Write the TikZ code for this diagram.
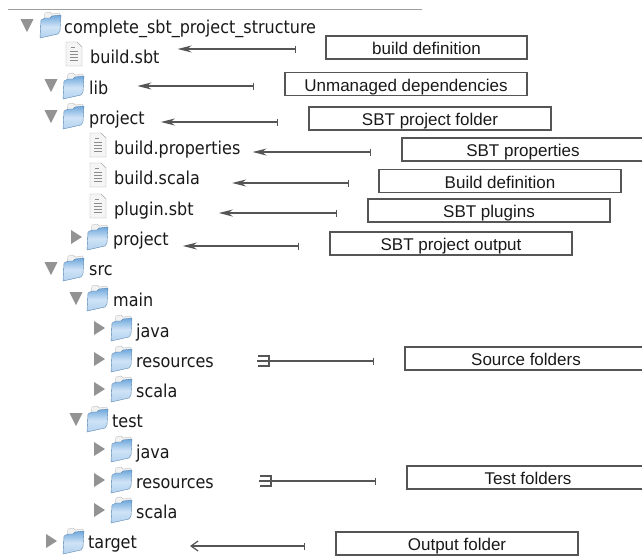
\documentclass[tikz,border=0pt]{standalone}
\usepackage{fontspec}
\setmainfont{Liberation Sans}
\newfontfamily\treefont{DejaVu Sans Condensed}
\usepackage{xcolor}
\usetikzlibrary{arrows.meta}
\definecolor{folderdark}{HTML}{6FA8DC}
\definecolor{folderlight}{HTML}{CFE3F6}
\definecolor{edgegray}{HTML}{555555}

\begin{document}
\begin{tikzpicture}[%
  x=1pt,y=-1pt,
  item/.style={anchor=base west,inner sep=0pt,font=\treefont\fontsize{17.8}{17.8}\selectfont,text=black!90},
  desc/.style={draw=edgegray,line width=1.2pt,minimum width=242pt,minimum height=23pt,inner sep=0pt,text height=15pt,text depth=1pt,font=\fontsize{17}{17}\selectfont,text=black!90},
  link/.style={draw=edgegray,line width=1.2pt,{Bar[width=7pt,line width=1.2pt]}-{Stealth[length=14pt,width=7pt]}},
  linkopen/.style={draw=edgegray,line width=1.2pt,{Bar[width=7pt,line width=1.2pt]}-{Straight Barb[length=7pt,width=10pt,line width=1.2pt]}},
  linkfork/.style={draw=edgegray,line width=1.2pt,{Bar[width=7pt,line width=1.2pt]}-},
  treeopen/.pic={\fill [gray!85] (-6.5,-6) -- (6.5,-6) -- (0,7) -- cycle;},
  treeclosed/.pic={\fill [gray!85] (-5,-7) -- (6,0) -- (-5,7) -- cycle;},
  fork/.pic={\draw [edgegray,line width=1.2pt] (-11,-5) -- (0,-5) -- (0,5) -- (-11,5) (-12,0) -- (0,0);},
  folder/.pic={
    \draw [gray!50,fill=gray!10] (4,-6) -- (5,-12) -- (10,-13) -- (12,-11) -- (20,-12) -- (20,-4) -- cycle;
    \draw [folderdark!80!black,top color=folderdark,bottom color=folderlight!70!folderdark,middle color=folderlight]
      (0,13) -- (1,-5) -- (5,-7) -- (10,-7) -- (12,-9) -- (21,-10) -- (20,6) -- (18,9) -- cycle;
  },
  textfile/.pic={
    \draw [gray!70,fill=gray!8] (0,-12) -- (11,-12) -- (16,-7) -- (16,12) -- (0,12) -- cycle;
    \draw [gray!90,line width=0.9pt] (5,-7) -- (9,-7) (4,-3) -- (12,-3) (4,0) -- (12,0) (4,3) -- (12,3) (4,6) -- (12,6);
  }
]
  \useasboundingbox (0,0) rectangle (642,558);
  \draw [gray!75,line width=1pt] (8,9) -- (422,9);

  % tree
  \pic at (27,25) {treeopen};
  \pic at (40,25) {folder};
  \node [item] (root) at (64,33) {complete\_sbt\_project\_structure};
  \pic at (66,54) {textfile};
  \node [item] (buildsbt) at (90,63) {build.sbt};
  \pic at (51,85) {treeopen};
  \pic at (63,86) {folder};
  \node [item] (lib) at (89,94) {lib};
  \pic at (51,116) {treeopen};
  \pic at (63,116) {folder};
  \node [item] (project) at (89,124) {project};
  \pic at (90,145) {textfile};
  \node [item] (buildprops) at (114,154) {build.properties};
  \pic at (90,175) {textfile};
  \node [item] (buildscala) at (114,184) {build.scala};
  \pic at (90,206) {textfile};
  \node [item] (pluginsbt) at (114,215) {plugin.sbt};
  \pic at (76,237) {treeclosed};
  \pic at (87,237) {folder};
  \node [item] (subproject) at (113,245) {project};
  \pic at (51,268) {treeopen};
  \pic at (63,268) {folder};
  \node [item] (src) at (89,275) {src};
  \pic at (76,298) {treeopen};
  \pic at (87,298) {folder};
  \node [item] (main) at (113,306) {main};
  \pic at (99,328) {treeclosed};
  \pic at (111,328) {folder};
  \node [item] (mainjava) at (136,337) {java};
  \pic at (99,359) {treeclosed};
  \pic at (111,359) {folder};
  \node [item] (mainres) at (136,367) {resources};
  \pic at (99,389) {treeclosed};
  \pic at (111,389) {folder};
  \node [item] (mainscala) at (136,397) {scala};
  \pic at (76,419) {treeopen};
  \pic at (87,419) {folder};
  \node [item] (test) at (112,427) {test};
  \pic at (99,449) {treeclosed};
  \pic at (111,449) {folder};
  \node [item] (testjava) at (136,458) {java};
  \pic at (99,480) {treeclosed};
  \pic at (111,480) {folder};
  \node [item] (testres) at (136,488) {resources};
  \pic at (99,510) {treeclosed};
  \pic at (111,510) {folder};
  \node [item] (testscala) at (136,518) {scala};
  \pic at (51,541) {treeclosed};
  \pic at (63,541) {folder};
  \node [item] (target) at (88,548) {target};

  % labels
  \node [desc,minimum width=201pt] (descbuild) at (426.5,47.5) {build definition};
  \node [desc] (desclib) at (406,84) {Unmanaged dependencies};
  \node [desc] (descproject) at (430,118.5) {SBT project folder};
  \node [desc] (descprops) at (523,149.5) {SBT properties};
  \node [desc] (descscala) at (500,181) {Build definition};
  \node [desc] (descplugin) at (489,210.5) {SBT plugins};
  \node [desc] (descoutput) at (451,243.5) {SBT project output};
  \node [desc] (descsource) at (526,358.5) {Source folders};
  \node [desc] (desctest) at (528,477.5) {Test folders};
  \node [desc] (desctarget) at (457,543.5) {Output folder};

  % arrows
  \coordinate (tailbuild) at (296,49);
  \coordinate (taillib) at (254,86);
  \coordinate (tailproject) at (278,122);
  \coordinate (tailprops) at (371,152);
  \coordinate (tailscala) at (349,183);
  \coordinate (tailplugin) at (337,213);
  \coordinate (tailoutput) at (299,246);
  \coordinate (tailsource) at (374,361);
  \coordinate (tailtest) at (376,481);
  \coordinate (tailtarget) at (305,546);
  \coordinate (forksource) at (269,361);
  \coordinate (forktest) at (271,481);
  \draw [link,shorten >=18pt] (tailbuild) -- (tailbuild -| buildsbt.east);
  \draw [link,shorten >=29pt] (taillib) -- (taillib -| lib.east);
  \draw [link,shorten >=16pt] (tailproject) -- (tailproject -| project.east);
  \draw [link,shorten >=12pt] (tailprops) -- (tailprops -| buildprops.east);
  \draw [link,shorten >=32pt] (tailscala) -- (tailscala -| buildscala.east);
  \draw [link,shorten >=25pt] (tailplugin) -- (tailplugin -| pluginsbt.east);
  \draw [link,shorten >=14pt] (tailoutput) -- (tailoutput -| subproject.east);
  \draw [linkfork] (tailsource) -- (forksource);
  \pic at (forksource) {fork};
  \draw [linkfork] (tailtest) -- (forktest);
  \pic at (forktest) {fork};
  \draw [linkopen,shorten >=53pt] (tailtarget) -- (tailtarget -| target.east);
\end{tikzpicture}
\end{document}
